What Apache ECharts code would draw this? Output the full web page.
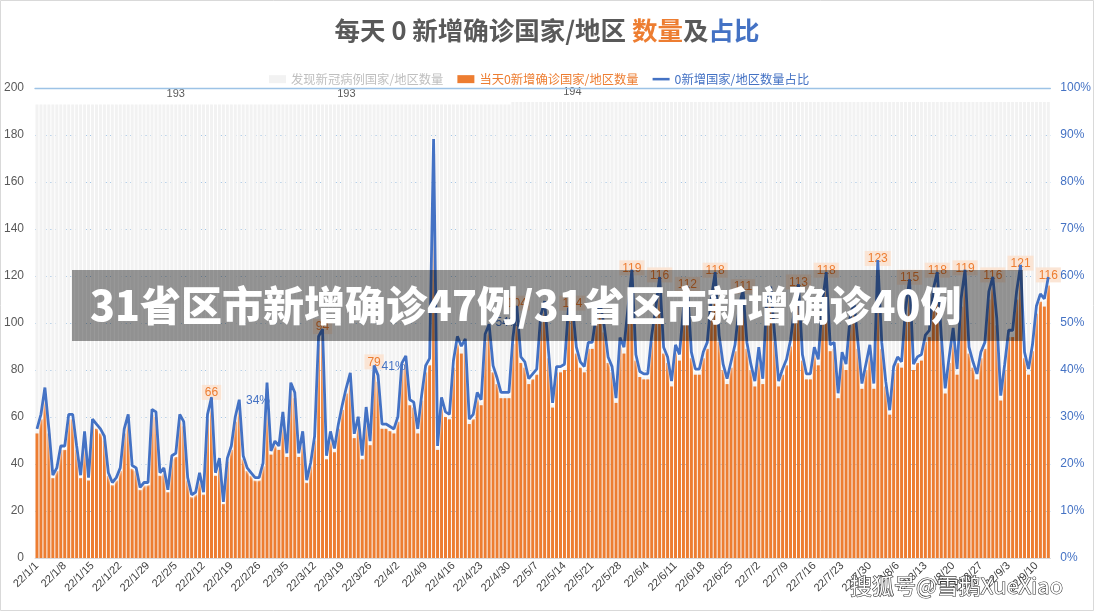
<!DOCTYPE html>
<html>
<head>
<meta charset="utf-8">
<script src="https://cdn.jsdelivr.net/npm/echarts/dist/echarts.min.js"></script>
<style>
html,body{margin:0;padding:0;background:#fff;}
#c{width:1094px;height:611px;}
</style>
</head>
<body>
<div id="c"></div>
<script>
// ---------------- DATA ----------------
// Daily categories 22/1/1 .. 22/9/13 (256 days)
const categories = [];
for (let i = 0; i < 256; i++) {
  const d = new Date(Date.UTC(2022, 0, 1 + i));
  categories.push('22/' + (d.getUTCMonth() + 1) + '/' + d.getUTCDate());
}

// Countries/regions that have found COVID cases (grey bars)
const totalCountries = [
  193,193,193,193,193,193,193,193,193,193,193,193,193,193,193,193,
  193,193,193,193,193,193,193,193,193,193,193,193,193,193,193,193,
  193,193,193,193,193,193,193,193,193,193,193,193,193,193,193,193,
  193,193,193,193,193,193,193,193,193,193,193,193,193,193,193,193,
  193,193,193,193,193,193,193,193,193,193,193,193,193,193,193,193,
  193,193,193,193,193,193,193,193,193,193,193,193,193,193,193,193,
  193,193,193,193,193,193,193,193,193,193,193,193,193,193,193,193,
  193,193,193,193,193,193,193,193,194,194,194,194,194,194,194,194,
  194,194,194,194,194,194,194,194,194,194,194,194,194,194,194,194,
  194,194,194,194,194,194,194,194,194,194,194,194,194,194,194,194,
  194,194,194,194,194,194,194,194,194,194,194,194,194,194,194,194,
  194,194,194,194,194,194,194,194,194,194,194,194,194,194,194,194,
  194,194,194,194,194,194,194,194,194,194,194,194,194,194,194,194,
  194,194,194,194,194,194,194,194,194,194,194,194,194,194,194,194,
  194,194,194,194,194,194,194,194,194,194,194,194,194,194,194,194,
  194,194,194,194,194,194,194,194,194,194,194,194,194,194,194,194
];

// Countries/regions with zero new confirmed cases that day (orange bars)
const zeroNew = [
  53,59,70,53,34,37,46,46,59,59,46,34,52,33,57,55,
  53,50,35,31,33,37,53,59,38,37,29,31,31,61,60,35,
  37,28,42,43,59,56,33,26,27,35,27,59,66,35,41,23,
  41,46,58,65,42,37,35,33,33,39,72,44,48,46,60,43,
  72,68,43,52,32,39,50,91,94,42,52,45,55,63,70,76,
  51,58,42,62,48,79,75,55,55,54,53,58,80,83,65,64,
  53,67,79,82,172,46,66,60,59,81,91,87,90,57,59,68,
  65,92,96,79,74,68,68,68,91,104,83,81,74,76,78,100,
  106,85,64,79,79,80,103,104,87,81,79,89,89,100,105,96,
  83,79,66,91,87,103,119,84,77,76,76,92,103,116,87,83,
  73,88,84,103,112,85,78,78,85,89,107,118,92,80,74,81,
  88,103,111,89,80,73,87,74,107,112,92,73,78,82,90,103,
  113,84,76,76,87,82,105,118,88,89,68,85,80,99,106,89,
  72,80,88,72,123,89,73,61,79,83,81,103,115,80,83,84,
  92,94,111,118,92,70,83,95,78,107,119,87,81,76,85,89,
  110,116,99,67,80,94,94,110,121,85,78,88,104,109,107,116
];

// Which points carry value labels in the original
const zeroLabelIdx = [44,72,85,121,135,150,157,164,171,178,192,199,212,220,227,234,241,248,255];
const totalLabelIdx = [35,78,135];
const shareLabelIdx = [44,85,121];

const seriesNames = ['发现新冠病例国家/地区数量', '当天0新增确诊国家/地区数量', '0新增国家/地区数量占比'];
const yLeftTicks = { min: 0, max: 200, interval: 20 };
const yRightTicks = { min: 0, max: 100, interval: 10 };

// Share of zero-new countries = zeroNew / totalCountries (definition of the line)
const share = zeroNew.map((v, i) => v / totalCountries[i] * 100);

// ---------------- STYLE / BUILD ----------------
const FONT = '"Liberation Sans","Noto Sans CJK SC",sans-serif';
const CJK = '"Noto Sans CJK SC","Noto Sans",sans-serif';
const shareLabelOffset = { 44: [29, 3], 85: [2, 1], 121: [-27, 17] };

const grayData = totalCountries.map((v, i) =>
  totalLabelIdx.includes(i) ? { value: v, label: { show: true } } : v);
const orangeData = zeroNew.map((v, i) =>
  zeroLabelIdx.includes(i) ? { value: v, label: { show: true } } : v);
const lineData = share.map((v, i) =>
  shareLabelIdx.includes(i)
    ? { value: v, symbol: 'circle', symbolSize: 1,
        label: { show: true, position: 'right', offset: shareLabelOffset[i] } }
    : v);

const chart = echarts.init(document.getElementById('c'));
chart.setOption({
  animation: false,
  backgroundColor: '#ffffff',
  title: {
    text: '{a|每天 0 新增确诊国家/地区 }{b|数量}{a|及}{c|占比}',
    left: 'center', top: 13,
    textStyle: {
      rich: {
        a: { fontSize: 25.5, color: '#595959', fontFamily: CJK },
        b: { fontSize: 25.5, color: '#ed7d31', fontFamily: CJK },
        c: { fontSize: 25.5, color: '#4472c4', fontFamily: CJK }
      }
    }
  },
  legend: {
    left: 264, top: 68, itemWidth: 17, itemHeight: 8, itemGap: 14,
    textStyle: { fontSize: 12.3, fontFamily: CJK },
    data: [
      { name: seriesNames[0], icon: 'rect', textStyle: { color: '#bfbfbf' } },
      { name: seriesNames[1], icon: 'rect', textStyle: { color: '#ed7d31' } },
      { name: seriesNames[2], icon: 'path://M0,0H20V3H0Z', textStyle: { color: '#4472c4' } }
    ]
  },
  grid: { left: 35, right: 43, top: 88, bottom: 53, containLabel: false },
  xAxis: [{
    type: 'category', data: categories, boundaryGap: true,
    axisLine: { lineStyle: { color: '#d9d9d9' } },
    axisTick: { interval: 6, length: 5, lineStyle: { color: '#d9d9d9' } },
    axisLabel: { interval: 6, rotate: 45, fontSize: 11, color: '#404040', margin: 6, fontFamily: FONT }
  }, {
    type: 'category', data: categories, position: 'top', z: 10,
    axisLine: { show: true, onZero: false, lineStyle: { color: '#9dc3e6', width: 1.3 } },
    axisTick: { show: false }, axisLabel: { show: false }, splitLine: { show: false }
  }],
  yAxis: [{
    type: 'value', min: yLeftTicks.min, max: yLeftTicks.max, interval: yLeftTicks.interval,
    axisLine: { show: false }, axisTick: { show: false },
    axisLabel: { color: '#595959', fontSize: 12, margin: 11, fontFamily: FONT },
    splitLine: { lineStyle: { color: '#9dc3e6', type: [2, 3], width: 1 } }
  }, {
    type: 'value', position: 'right', min: yRightTicks.min, max: yRightTicks.max, interval: yRightTicks.interval,
    axisLine: { show: false }, axisTick: { show: false },
    axisLabel: { formatter: '{value}%', color: '#4472c4', fontSize: 12, margin: 10, fontFamily: FONT },
    splitLine: { show: false }
  }],
  series: [{
    name: seriesNames[0], type: 'bar', data: grayData,
    barWidth: '75%', barGap: '-100%', z: 1,
    itemStyle: { color: '#f2f2f2' },
    label: { show: false, position: 'top', distance: 5, color: '#595959', fontSize: 11, fontFamily: FONT }
  }, {
    name: seriesNames[1], type: 'bar', data: orangeData,
    barWidth: '75%', barGap: '-100%', z: 2,
    itemStyle: { color: '#ed7d31' },
    label: {
      show: false, position: 'top', distance: 3, color: '#ed7d31', fontSize: 12, fontFamily: FONT,
      backgroundColor: 'rgba(251,226,208,0.9)', padding: [2, 3, 1, 3]
    }
  }, {
    name: seriesNames[2], type: 'line', yAxisIndex: 1, data: lineData,
    symbol: 'none', showSymbol: true, showAllSymbol: true, z: 3,
    itemStyle: { color: '#4472c4' },
    lineStyle: { color: '#4472c4', width: 2.8, shadowColor: 'rgba(255,255,255,0.95)', shadowBlur: 2, shadowOffsetY: 2 },
    label: {
      show: false, color: '#4472c4', fontSize: 12, fontFamily: FONT,
      formatter: p => Math.round(p.value) + '%'
    }
  }],
  graphic: [
    { type: 'rect', z: 100, shape: { x: 72, y: 270, width: 951, height: 71 },
      style: { fill: 'rgba(0,0,0,0.4)' } },
    { type: 'text', z: 101, x: 90, y: 305,
      style: { text: '31省区市新增确诊47例/31省区市新增确诊40例', fill: '#ffffff',
               font: '900 41px "Noto Sans CJK SC"', verticalAlign: 'middle' } },
    { type: 'text', z: 101, x: 850, y: 586,
      style: { text: '搜狐号@雪鹅XueXiao', fill: '#ffffff', stroke: '#333333', lineWidth: 1.2,
               font: '22px "Noto Sans CJK SC"', verticalAlign: 'middle' } },
    { type: 'rect', z: 100, shape: { x: 0.5, y: 0.5, width: 1093, height: 610 },
      style: { fill: 'none', stroke: '#d9d9d9', lineWidth: 1 } }
  ]
});
</script>
</body>
</html>
